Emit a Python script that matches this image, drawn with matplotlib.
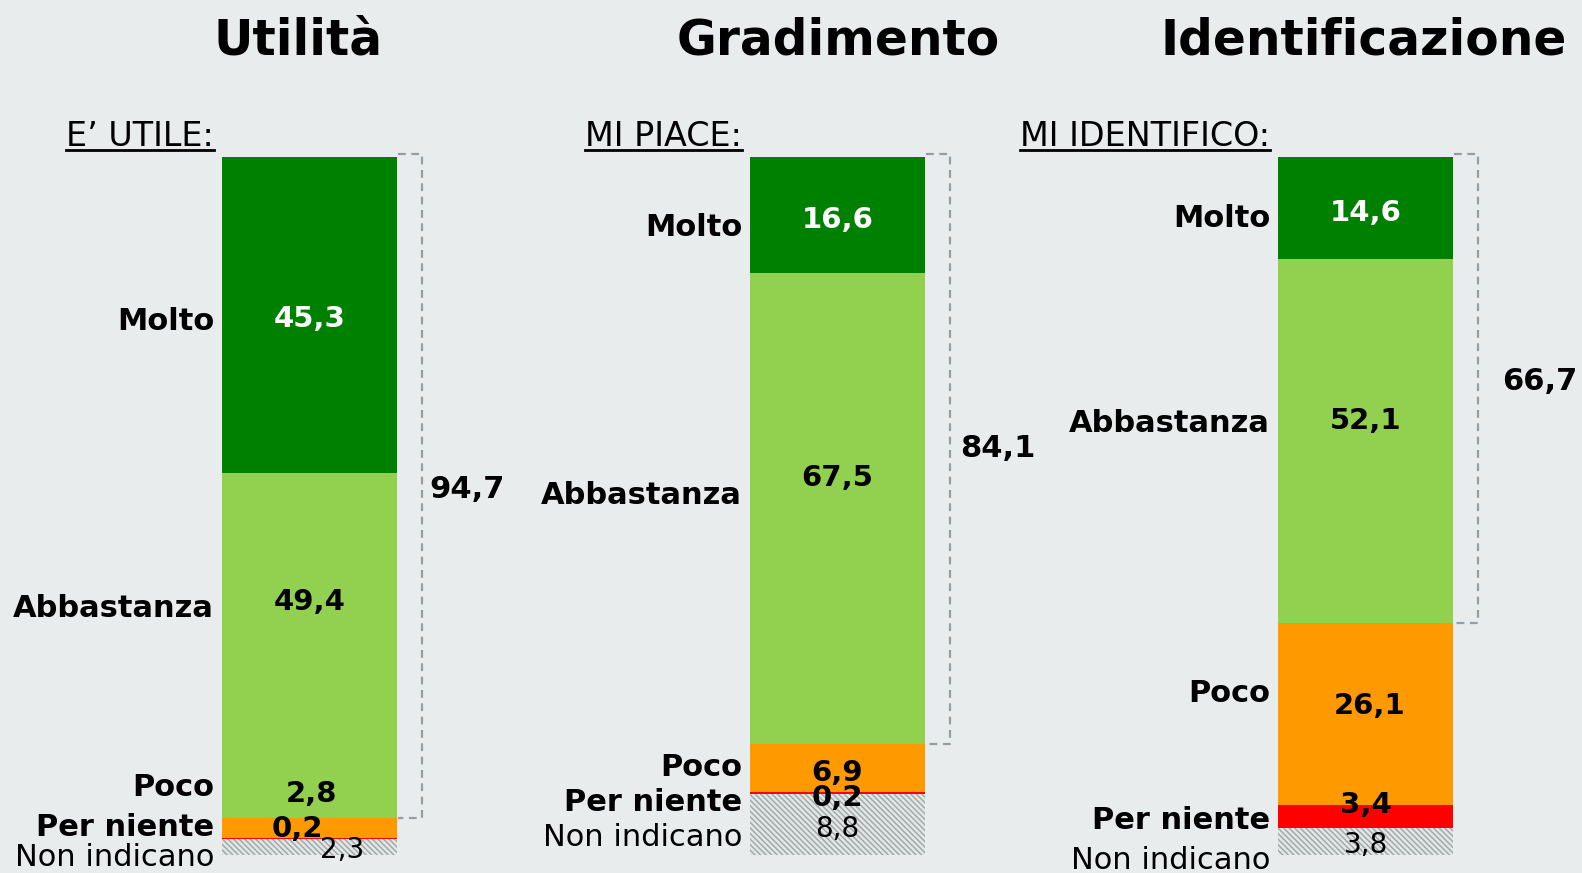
import matplotlib
matplotlib.use('Agg')
import matplotlib.pyplot as plt
import numpy as np

# Data (percent, stacked top to bottom)
titles = ['Utilità', 'Gradimento', 'Identificazione']
subtitles = ['E’ UTILE:', 'MI PIACE:', 'MI IDENTIFICO:']
categories = ['Molto', 'Abbastanza', 'Poco', 'Per niente', 'Non indicano']
utilita = [45.3, 49.4, 2.8, 0.2, 2.3]
gradimento = [16.6, 67.5, 6.9, 0.2, 8.8]
identificazione = [14.6, 52.1, 26.1, 3.4, 3.8]
panels = [utilita, gradimento, identificazione]

# Styling
bg = '#e9eced'
seg_colors = ['#008000', '#92d050', '#ff9900', '#ff0000', '#e3e7e7']
val_colors = ['white', 'black', 'black', 'black', 'black']
plt.rcParams['font.family'] = ['DejaVu Sans']
plt.rcParams['hatch.linewidth'] = 1.1

# Label layout (y in percent from the top of the bar, x shifts in pixels)
cat_y = [[23.2, 64.2, 89.9, 95.7, 99.9],
         [9.6, 48.0, 87.0, 92.0, 97.1],
         [8.45, 37.8, 76.5, 94.6, 100.4]]
val_y = [[22.8, 63.3, 90.8, 95.8, 98.9],
         [8.6, 45.6, 87.8, 91.4, 95.8],
         [7.6, 37.4, 78.2, 92.4, 98.1]]
val_dx = [[0, 0, 2, -12, 33], [0, 0, 0, 0, 0], [0, 0, 4, 0, 0]]
title_dx = [-11, 1, -2]
total_dx = [32, 35, 49]
total_dy = [0, -4, -10]

fig = plt.figure(figsize=(15.82, 8.73), dpi=100, facecolor=bg)
ax = fig.add_axes([0, 18 / 873, 1, 698 / 873])
ax.set_facecolor(bg)
spacing = 528.0          # pixels between bar centres
px = 1 / spacing         # one pixel in x data units
py = 100 / 698           # one pixel in y data units
ax.set_xlim(-309.5 * px, (1582 - 309.5) * px)
ax.set_ylim(100, 0)
ax.axis('off')
w = 175 * px

sub_texts = []
for i, vals in enumerate(panels):
    bottoms = np.concatenate([[0], np.cumsum(vals)[:-1]])
    for j, v in enumerate(vals):
        hatch = '\\\\\\\\\\\\' if j == 4 else None
        ec = '#a3a9a9' if j == 4 else seg_colors[j]
        ax.bar(i, v, width=w, bottom=bottoms[j], color=seg_colors[j],
               edgecolor=ec, linewidth=0, hatch=hatch)
        weight = 'normal' if j == 4 else 'bold'
        size = 20 if j == 4 else 21
        ax.text(i + val_dx[i][j] * px, val_y[i][j], f'{v:.1f}'.replace('.', ','),
                ha='center', va='center_baseline', fontsize=size,
                fontweight=weight, color=val_colors[j], clip_on=False)
        ax.text(i - w / 2 - 8 * px, cat_y[i][j], categories[j],
                ha='right', va='center_baseline', fontsize=22,
                fontweight=weight, color='black', clip_on=False)

    # bracket around Molto + Abbastanza
    top = -3 * py
    bot = vals[0] + vals[1]
    x0 = i + w / 2 + 1 * px
    xb = i + w / 2 + 25 * px
    ax.plot([x0, xb, xb, x0], [top, top, bot, bot], color='#959ea2', lw=1.6,
            dashes=(3.5, 2.5), clip_on=False, solid_joinstyle='round')
    ax.text(i + w / 2 + total_dx[i] * px, (top + bot) / 2 + total_dy[i] * py,
            f'{bot:.1f}'.replace('.', ','), ha='left', va='center_baseline',
            fontsize=22, fontweight='bold', clip_on=False)

    ax.text(i + title_dx[i] * px, (36 - 157) * py, titles[i], ha='center',
            va='center_baseline', fontsize=35, fontweight='bold', clip_on=False)
    sub_texts.append(ax.text(i - w / 2 - 8 * px, (133 - 157) * py, subtitles[i],
                             ha='right', va='center_baseline', fontsize=24,
                             clip_on=False))

# underline the subtitles
fig.canvas.draw()
renderer = fig.canvas.get_renderer()
inv = ax.transData.inverted()
for t in sub_texts:
    bb = t.get_window_extent(renderer)
    xa = inv.transform((bb.x0, 0))[0]
    xz = inv.transform((bb.x1, 0))[0]
    ax.plot([xa, xz], [(150 - 157) * py] * 2, color='black', lw=2, clip_on=False)

fig.savefig('out.png', dpi=100, facecolor=bg)
